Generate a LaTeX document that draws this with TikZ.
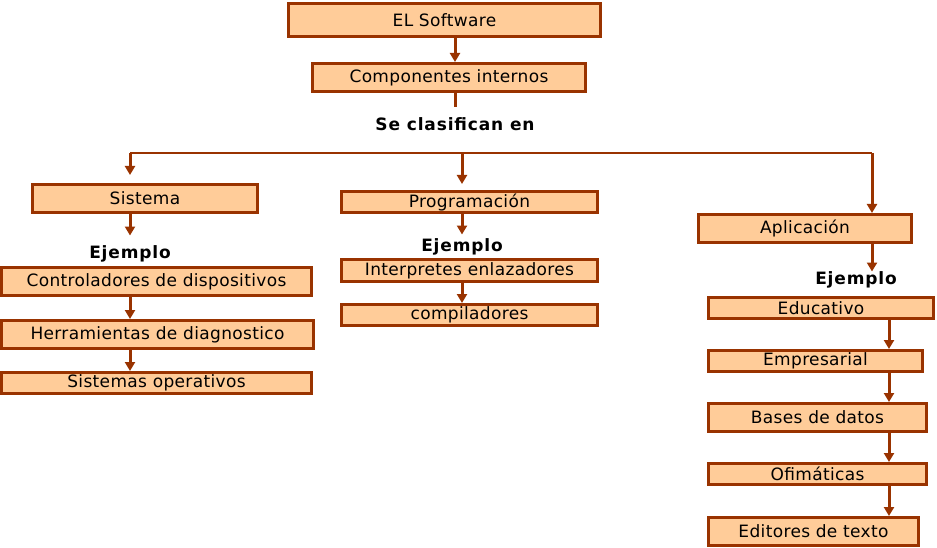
\documentclass[tikz,border=0pt]{standalone}
\usepackage{fontspec}
\setmainfont{DejaVu Sans}[LetterSpace=2,BoldFeatures={LetterSpace=5}]
\usetikzlibrary{arrows.meta}
\definecolor{marron}{RGB}{153,51,0}
\definecolor{crema}{RGB}{255,204,153}
\begin{document}
\begin{tikzpicture}[x=1pt,y=-1pt]

      \tikzset{caja/.style={draw=marron, line width=3pt, fill=crema, inner sep=0pt, font=\fontsize{17}{20}\selectfont},
               ejemplo/.style={inner sep=0pt, font=\fontsize{17}{20}\selectfont\bfseries},
               flecha/.style={draw=marron, line width=3pt, -{Triangle[width=10pt,length=9pt]}},
               linea/.style={draw=marron, line width=3pt}}
      \useasboundingbox (0,0) rectangle (937,548);
%% Cajas
      	\node[caja, minimum width=312, minimum height=33] (sw) at (444.5,20) {EL Software};
      	\node[caja, minimum width=273, minimum height=28] (ci) at (449,77.5) {Componentes internos};
      	\node[ejemplo] (cla) at (455,124) {Se clasifican en};
      	\node[caja, minimum width=225, minimum height=28] (sis) at (145,198.5) {Sistema};
      	\node[ejemplo] (ej1) at (130,254) {Ejemplo};
      	\node[caja, minimum width=310, minimum height=28] (ctr) at (156.5,281.5) {Controladores de dispositivos};
      	\node[caja, minimum width=312, minimum height=28] (her) at (157.5,334.5) {Herramientas de diagnostico};
      	\node[caja, minimum width=310, minimum height=21] (sop) at (156.5,383) {Sistemas operativos};
      	\node[caja, minimum width=256, minimum height=21] (pro) at (469.5,202) {Programación};
      	\node[ejemplo] (ej2) at (462,247) {Ejemplo};
      	\node[caja, minimum width=256, minimum height=22] (int) at (469.5,270.5) {Interpretes enlazadores};
      	\node[caja, minimum width=256, minimum height=21] (com) at (469.5,315) {compiladores};
      	\node[caja, minimum width=213, minimum height=28] (apl) at (805,228.5) {Aplicación};
      	\node[ejemplo] (ej3) at (856,280) {Ejemplo};
      	\node[caja, minimum width=225, minimum height=21] (edu) at (821,308) {Educativo};
      	\node[caja, minimum width=214, minimum height=21] (emp) at (815.5,361) {Empresarial};
      	\node[caja, minimum width=218, minimum height=28] (bas) at (817.5,417.5) {Bases de datos};
      	\node[caja, minimum width=218, minimum height=21] (ofi) at (817.5,474) {Ofimáticas};
      	\node[caja, minimum width=210, minimum height=28] (edi) at (813.5,531.5) {Editores de texto};
%% Columnas y barra
      	\coordinate (xa) at (455,0);
      	\coordinate (xs) at (130,0);
      	\coordinate (xp) at (462,0);
      	\coordinate (xap) at (872,0);
      	\coordinate (xr) at (889,0);
      	\coordinate (t1) at (455,107);
      	\coordinate (b1) at (130,153);
      	\coordinate (b2) at (462,153);
      	\coordinate (b3) at (872,153);
%Flechas
		\path (sw.south -| xa) edge[flecha] (ci.north -| xa);
		\path (ci.south -| xa) edge[linea] (t1);
		\path (b1) edge[draw=marron, line width=2.5pt] (b3);
		\path (b1) edge[flecha, shorten >=8pt] (sis.north -| xs);
		\path (b2) edge[flecha, shorten >=6pt] (pro.north -| xp);
		\path (b3) edge[flecha] (apl.north -| xap);
		\path (sis.south -| xs) edge[flecha, shorten >=10pt] (ej1.north -| xs);
		\path (ctr.south -| xs) edge[flecha] (her.north -| xs);
		\path (her.south -| xs) edge[flecha] (sop.north -| xs);
		\path (pro.south -| xp) edge[flecha, shorten >=4pt] (ej2.north -| xp);
		\path (int.south -| xp) edge[flecha] (com.north -| xp);
		\path (apl.south -| xap) edge[flecha] (ej3.north -| xap);
		\path (edu.south -| xr) edge[flecha] (emp.north -| xr);
		\path (emp.south -| xr) edge[flecha] (bas.north -| xr);
		\path (bas.south -| xr) edge[flecha] (ofi.north -| xr);
		\path (ofi.south -| xr) edge[flecha] (edi.north -| xr);

	\end{tikzpicture}
\end{document}
